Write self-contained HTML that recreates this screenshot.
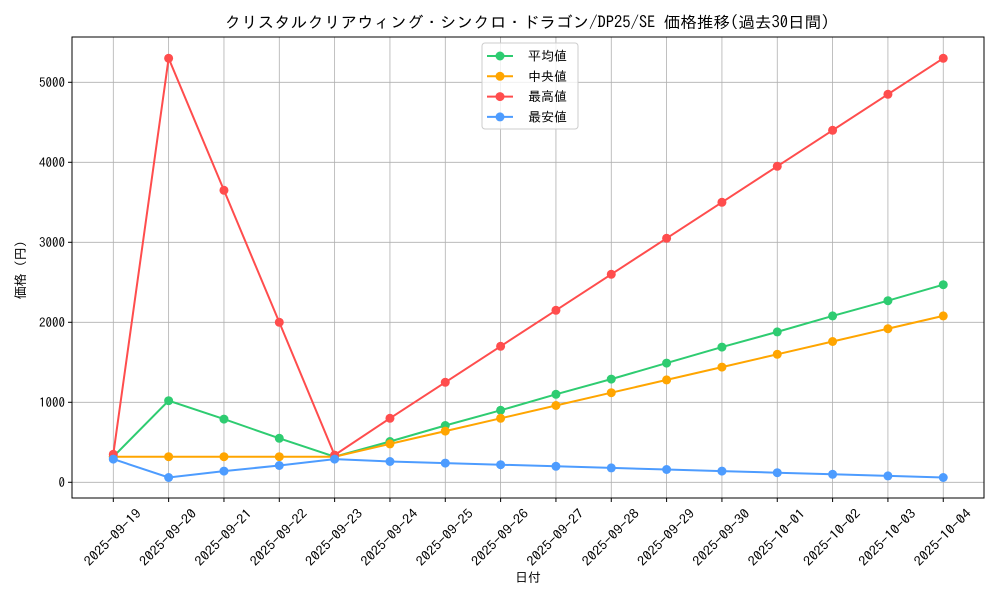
<!DOCTYPE html>
<html><head><meta charset="utf-8"><style>
body{margin:0;background:#fff}
svg text{font-family:"IPAGothic","Noto Sans CJK JP",sans-serif;fill:#000}
</style></head><body>
<svg id="s" width="1000" height="600" xmlns="http://www.w3.org/2000/svg"></svg>
<script>
const L=72,R=984,T=37,B=498;
const X=i=>113.3+i*55.33, Y=v=>482.3-v*0.08;
let h='<rect width="1000" height="600" fill="#fff"/>';
const dates=["2025-09-19","2025-09-20","2025-09-21","2025-09-22","2025-09-23","2025-09-24","2025-09-25","2025-09-26","2025-09-27","2025-09-28","2025-09-29","2025-09-30","2025-10-01","2025-10-02","2025-10-03","2025-10-04"];
dates.forEach((d,i)=>{const x=X(i);
h+=`<line x1="${x}" y1="${T}" x2="${x}" y2="${B}" stroke="#b0b0b0" stroke-width="0.8"/>`;
h+=`<line x1="${x}" y1="${B}" x2="${x}" y2="${B+4}" stroke="#000"/>`;
h+=`<text transform="translate(${x-1},537) rotate(-45)" text-anchor="middle" font-size="13" textLength="74" lengthAdjust="spacingAndGlyphs" y="5">${d}</text>`;});
for(let v=0;v<=5000;v+=1000){const y=Y(v);
h+=`<line x1="${L}" y1="${y}" x2="${R}" y2="${y}" stroke="#b0b0b0" stroke-width="0.8"/>`;
h+=`<line x1="${L-4}" y1="${y}" x2="${L}" y2="${y}" stroke="#000"/>`;
h+=`<text x="${L-7}" y="${y+4.5}" text-anchor="end" font-size="13">${v}</text>`;}
const S=[["#2ecc71",[320,1020,790,550,320,510,710,900,1100,1290,1490,1690,1880,2080,2270,2470]],
["#ffa500",[320,320,320,320,320,480,640,800,960,1120,1280,1440,1600,1760,1920,2080]],
["#ff4d4d",[350,5300,3650,2000,340,800,1250,1700,2150,2600,3050,3500,3950,4400,4850,5300]],
["#4d9cff",[290,60,140,210,290,260,240,220,200,180,160,140,120,100,80,60]]];
S.forEach(([c,d])=>{h+=`<polyline fill="none" stroke="${c}" stroke-width="2" points="${d.map((v,i)=>X(i)+','+Y(v)).join(' ')}"/>`;
d.forEach((v,i)=>h+=`<circle cx="${X(i)}" cy="${Y(v)}" r="4.5" fill="${c}"/>`);});
h+=`<rect x="${L}" y="${T}" width="${R-L}" height="${B-T}" fill="none" stroke="#000" stroke-width="1"/>`;
h+=`<rect x="482" y="43" width="96" height="86" rx="3" fill="#fff" fill-opacity="0.8" stroke="#ccc"/>`;
["平均値","中央値","最高値","最安値"].forEach((t,i)=>{const y=56+i*20.3,c=S[i][0];
h+=`<line x1="487" y1="${y}" x2="513" y2="${y}" stroke="${c}" stroke-width="2"/><circle cx="500" cy="${y}" r="4.5" fill="${c}"/>`;
h+=`<text x="528" y="${y+4.5}" font-size="13">${t}</text>`;});
h+=`<text x="527" y="28" text-anchor="middle" font-size="16" textLength="605" lengthAdjust="spacingAndGlyphs">クリスタルクリアウィング・シンクロ・ドラゴン/DP25/SE 価格推移(過去30日間)</text>`;
h+=`<text x="528" y="582" text-anchor="middle" font-size="13">日付</text>`;
h+=`<text transform="translate(25,270) rotate(-90)" text-anchor="middle" font-size="13">価格 (円)</text>`;
document.getElementById('s').innerHTML=h;
</script>
</body></html>
